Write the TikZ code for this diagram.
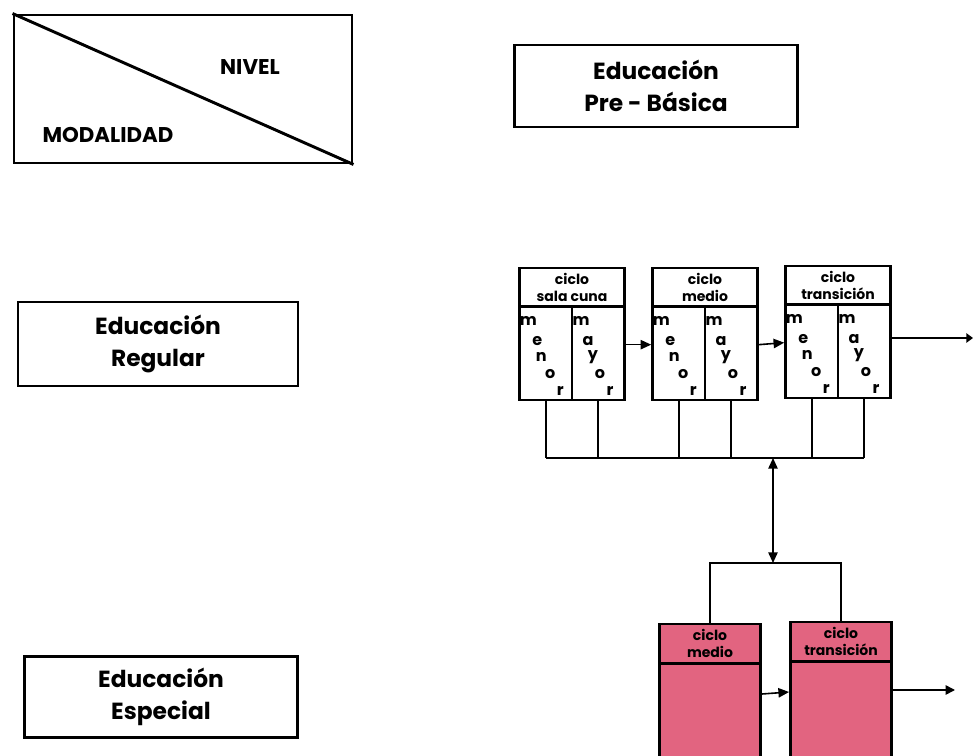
\documentclass[tikz,border=0pt]{standalone}
\usepackage{fontspec}
\setmainfont{Poppins}
\usetikzlibrary{calc,
                    arrows.meta,
                    positioning}
\definecolor{rosa}{RGB}{226,100,128}
\tikzset{
caja/.style = {draw=black, line width=2.2pt, align=center, inner sep=0pt,
               font=\fontsize{17.5}{24}\selectfont\bfseries}
                }
\tikzset{
ciclo/.style = {draw=black, line width=1.9pt, inner sep=0pt,
                minimum width=78.75pt, minimum height=99pt},
rotulo/.style = {align=center, inner sep=0pt, font=\fontsize{10.5}{12.75}\selectfont\bfseries},
letra/.style = {inner sep=0pt, font=\fontsize{12}{12}\selectfont\bfseries},
linea/.style = {line width=1.2pt},
flecha/.style = {linea, -{Triangle[length=8pt,width=7pt]}}
         }

\begin{document}
\begin{tikzpicture}[x=0.75pt,y=-0.75pt]
    \clip (0,0) rectangle (975,756);

        % NIVEL / MODALIDAD
    \node[caja, minimum width=253.5pt, minimum height=111pt] (nm) at (183,89) {};
    \draw[line width=2.2pt] (nm.north west) -- (nm.south east);
    \node[inner sep=0pt, font=\fontsize{16}{20}\selectfont\bfseries] (nivel) at (250,67) {NIVEL};
    \node[inner sep=0pt, font=\fontsize{16}{20}\selectfont\bfseries] (modalidad) at (108,135) {MODALIDAD};

        % CAJAS
    \node[caja, minimum width=212pt, minimum height=61.5pt] (prebasica) at (656,86) {Educación\\Pre - Básica};
    \node[caja, minimum width=210pt, minimum height=63pt] (regular) at (158,344) {Educación\\Regular};
    \node[caja, minimum width=205pt, minimum height=61pt] (especial) at (161,697) {Educación\\Especial};

        % CICLOS EDUCACION REGULAR
    \foreach \nom/\cx/\cy/\sub in {c1/572/334/sala cuna, c2/705/334/medio, c3/838/332/transición} {
      \node[ciclo] (\nom) at (\cx,\cy) {};
      \draw[line width=1.9pt] ($(\nom.north west)+(0,40)$) -- ($(\nom.north east)+(0,40)$);
      \draw[line width=1.9pt] ($(\nom.north)+(0,40)$) -- (\nom.south);
      \node[rotulo] (\nom-t) at ($(\nom.north)+(0,21)$) {ciclo\\\sub};
      \foreach \l/\dx/\dy [count=\k] in {m/10/14, e/19/34, n/23/50, o/32/67, r/42/84}
        \node[letra] (\nom-a\k) at ($(\nom.north west)+(\dx,40+\dy)$) {\l};
      \foreach \l/\dx/\dy [count=\k] in {m/9/14, a/16/34, y/21/50, o/28/67, r/38/84}
        \node[letra] (\nom-b\k) at ($(\nom.north)+(\dx,40+\dy)$) {\l};
    }

    \draw[flecha] ([yshift=-8pt]c1.east) -- ([yshift=-8pt]c2.west);
    \draw[flecha] ([yshift=-8pt]c2.east) -- ([yshift=-8pt]c3.west);
    \coordinate (s1) at (973,338);
    \draw[linea,-{Triangle[length=5pt,width=7pt]}] (c3.east |- s1) -- (s1);

        % ENLACE
    \coordinate (bus) at (773,458);
    \coordinate (bus2) at (773,563);
    \foreach \nom in {c1,c2,c3} {
      \draw[linea] ([xshift=-19.5pt]\nom.south) -- ([xshift=-19.5pt]\nom.south |- bus);
      \draw[linea] ([xshift=19.5pt]\nom.south) -- ([xshift=19.5pt]\nom.south |- bus);
    }
    \draw[linea] ([xshift=-19.5pt]c1.south |- bus) -- ([xshift=19.5pt]c3.south |- bus);
    \draw[linea,{Triangle[length=8pt,width=7pt]}-{Triangle[length=8pt,width=7pt]}] (bus) -- (bus2);

        % CICLOS EDUCACION ESPECIAL
    \foreach \nom/\cx/\cy/\sub in {p1/710/700/medio, p2/841/698/transición} {
      \node[ciclo, fill=rosa, minimum width=76pt, minimum height=114pt] (\nom) at (\cx,\cy) {};
      \draw[line width=1.9pt] ($(\nom.north west)+(0,41)$) -- ($(\nom.north east)+(0,41)$);
      \node[rotulo] (\nom-t) at ($(\nom.north)+(0,21)$) {ciclo\\\sub};
    }
    \draw[linea] (p1.north) |- (bus2) -| (p2.north);
    \draw[flecha] ([yshift=4.5pt]p1.east) -- ([yshift=4.5pt]p2.west);
    \coordinate (s2) at (955,690);
    \draw[linea,-{Triangle[length=7pt,width=7pt]}] (p2.east |- s2) -- (s2);

\end{tikzpicture}
\end{document}
